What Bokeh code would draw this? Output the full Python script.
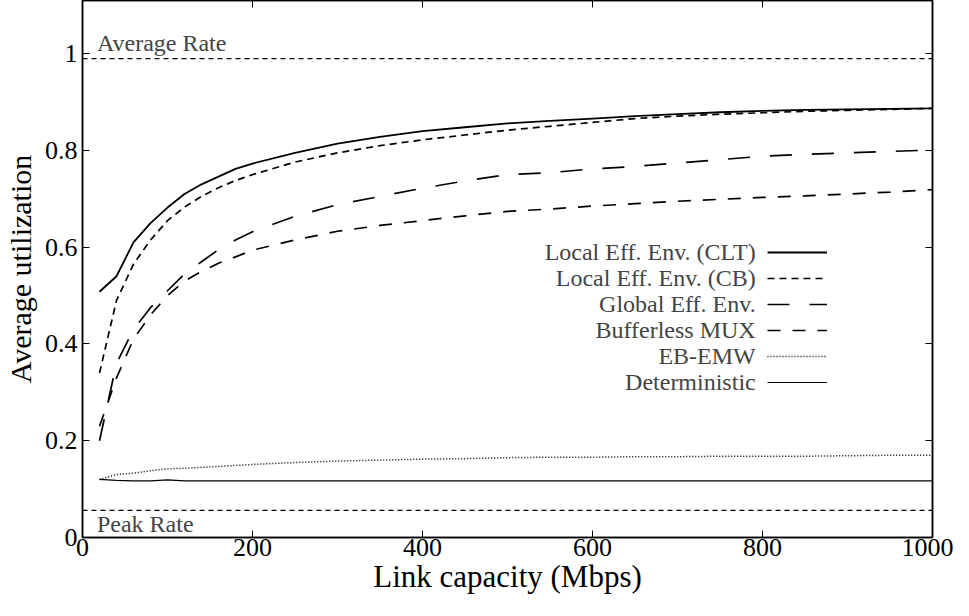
from bokeh.plotting import figure
from bokeh.models import (Span, Label, Legend, LegendItem, FixedTicker,
                          CustomJSTickFormatter, LinearAxis, Range1d)
from bokeh.embed import file_html
from bokeh.resources import INLINE

# ---------------- data ----------------
capacity = [20, 40, 60, 80, 100, 120, 140, 160, 180, 200, 250, 300, 350, 400,
            450, 500, 550, 600, 650, 700, 750, 800, 850, 900, 950, 1000]

local_clt = [0.508, 0.54, 0.61, 0.65, 0.682, 0.71, 0.73, 0.746, 0.762, 0.773,
             0.795, 0.814, 0.828, 0.84, 0.848, 0.856, 0.861, 0.866, 0.871,
             0.875, 0.879, 0.882, 0.884, 0.885, 0.886, 0.887]
local_cb = [0.34, 0.49, 0.565, 0.615, 0.655, 0.683, 0.705, 0.723, 0.738, 0.75,
            0.776, 0.795, 0.81, 0.822, 0.832, 0.842, 0.85, 0.858, 0.866,
            0.871, 0.875, 0.878, 0.881, 0.883, 0.885, 0.887]
global_env = [0.2, 0.36, 0.43, 0.475, 0.51, 0.545, 0.57, 0.595, 0.615, 0.632,
              0.664, 0.688, 0.705, 0.722, 0.737, 0.75, 0.754, 0.762, 0.767,
              0.774, 0.781, 0.788, 0.792, 0.795, 0.798, 0.801]
bufferless = [0.23, 0.33, 0.41, 0.46, 0.5, 0.53, 0.55, 0.567, 0.58, 0.594,
              0.615, 0.633, 0.645, 0.655, 0.665, 0.674, 0.679, 0.685, 0.69,
              0.695, 0.699, 0.703, 0.706, 0.71, 0.714, 0.719]
eb_emw = [0.12, 0.13, 0.133, 0.138, 0.142, 0.143, 0.145, 0.147, 0.149, 0.151,
          0.155, 0.158, 0.16, 0.162, 0.163, 0.165, 0.166, 0.166, 0.167,
          0.167, 0.168, 0.168, 0.168, 0.169, 0.17, 0.17]
deterministic = [0.12, 0.118, 0.117, 0.117, 0.119, 0.117, 0.117, 0.117, 0.117,
                 0.117, 0.117, 0.117, 0.117, 0.117, 0.117, 0.117, 0.117, 0.117,
                 0.117, 0.117, 0.117, 0.117, 0.117, 0.117, 0.117, 0.117]

average_rate = 0.99
peak_rate = 0.056

series_names = ["Local Eff. Env. (CLT)", "Local Eff. Env. (CB)", "Global Eff. Env.",
                "Bufferless MUX", "EB-EMW", "Deterministic"]
x_ticks = [0, 200, 400, 600, 800, 1000]
y_ticks = [0, 0.2, 0.4, 0.6, 0.8, 1]

FONT = "Liberation Serif"
Y_MAX = 1.11
FRAME_H = 536

# ---------------- figure ----------------
p = figure(width=953, height=600, x_range=Range1d(0, 1000), y_range=Range1d(0, Y_MAX),
           output_backend="svg", toolbar_location=None,
           min_border_left=79, min_border_right=21, min_border_top=0, min_border_bottom=63)
p.grid.visible = False
p.outline_line_color = "black"
p.outline_line_width = 1.5
p.background_fill_color = "white"
p.border_fill_color = "white"

for ax in (p.xaxis[0], p.yaxis[0]):
    ax.major_tick_in = 7
    ax.major_tick_out = 0
    ax.minor_tick_line_color = None
    ax.axis_line_color = "black"
    ax.axis_line_width = 1.5
    ax.major_tick_line_color = "black"
    ax.major_label_text_font = FONT
    ax.major_label_text_font_size = "26px"
    ax.major_label_text_color = "black"
    ax.axis_label_text_font = FONT
    ax.axis_label_text_font_style = "normal"
    ax.axis_label_text_color = "black"

p.xaxis.ticker = FixedTicker(ticks=x_ticks)
p.yaxis.ticker = FixedTicker(ticks=y_ticks)
p.yaxis.formatter = CustomJSTickFormatter(code="return String(tick);")
p.xaxis.axis_label = "Link capacity (Mbps)"
p.yaxis.axis_label = "Average utilization"
p.xaxis.axis_label_text_font_size = "31px"
p.yaxis.axis_label_text_font_size = "30px"
p.xaxis.major_label_standoff = 1
p.yaxis.major_label_standoff = 5
p.xaxis.axis_label_standoff = 0
p.yaxis.axis_label_standoff = 5

blank = CustomJSTickFormatter(code="return '';")
right_ax = LinearAxis(ticker=FixedTicker(ticks=y_ticks), formatter=blank,
                      major_tick_in=7, major_tick_out=0, minor_tick_line_color=None,
                      major_label_standoff=0, major_label_text_font_size="1px",
                      axis_line_color="black", axis_line_width=1.5)
top_ax = LinearAxis(ticker=FixedTicker(ticks=x_ticks), formatter=blank,
                    major_tick_in=7, major_tick_out=0, minor_tick_line_color=None,
                    major_label_standoff=0, major_label_text_font_size="1px",
                    axis_line_color="black", axis_line_width=1.5)
p.add_layout(right_ax, "right")
p.add_layout(top_ax, "above")

# reference lines
p.add_layout(Span(location=average_rate, dimension="width", line_color="black",
                  line_width=1.3, line_dash="5 4"))
p.add_layout(Span(location=peak_rate, dimension="width", line_color="black",
                  line_width=1.3, line_dash="5 4"))
p.add_layout(Label(x=17, y=average_rate + 0.006, text="Average Rate",
                   text_font=FONT, text_font_size="24px", text_baseline="bottom"))
p.add_layout(Label(x=17, y=0.001, text="Peak Rate",
                   text_font=FONT, text_font_size="24px", text_baseline="bottom"))

# curves
styles = [
    dict(line_width=1.8, line_dash="solid"),
    dict(line_width=1.7, line_dash="7 5"),
    dict(line_width=1.7, line_dash="22 20"),
    dict(line_width=1.7, line_dash="13 12"),
    dict(line_width=1.5, line_dash="1 2"),
    dict(line_width=1.2, line_dash="solid"),
]
all_series = [local_clt, local_cb, global_env, bufferless, eb_emw, deterministic]
renderers = []
for ys, st in zip(all_series, styles):
    r = p.line(capacity, ys, line_color="black", **st)
    renderers.append(r)

# legend: line samples on the right, names right-aligned to their left
ROW_H, ROW_GAP, LEG_X, LEG_BOTTOM = 20, 5.6, 685, 145
items = [LegendItem(label=" ", renderers=[r]) for r in renderers]
legend = Legend(items=items, location=(LEG_X, LEG_BOTTOM), glyph_width=60,
                glyph_height=ROW_H, label_width=0, label_height=ROW_H, label_standoff=0,
                spacing=int(round(ROW_GAP)), padding=0, margin=0, border_line_color=None,
                background_fill_alpha=0, label_text_font_size="1px")
p.add_layout(legend)

px_per_unit = FRAME_H / Y_MAX
n = len(series_names)
pitch = ROW_H + int(round(ROW_GAP))
top_center_px = LEG_BOTTOM + ROW_H / 2 + (n - 1) * pitch
LEG_TEXT_X = 792
for i, name in enumerate(series_names):
    yy = (top_center_px - i * pitch) / px_per_unit
    p.add_layout(Label(x=LEG_TEXT_X, y=yy, text=name,
                       text_font=FONT, text_font_size="24px",
                       text_align="right", text_baseline="middle"))

open("out.html", "w").write(file_html(p, INLINE))
